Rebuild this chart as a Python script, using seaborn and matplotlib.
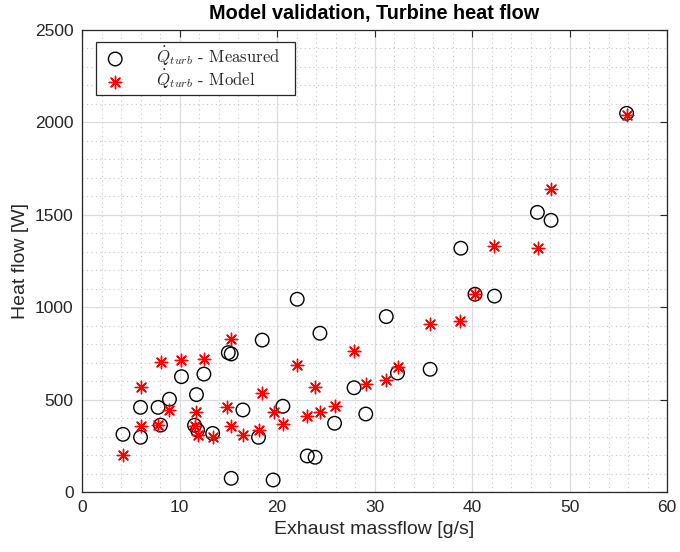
import matplotlib
matplotlib.use("Agg")
import matplotlib.pyplot as plt
import seaborn as sns
import pandas as pd
from matplotlib.ticker import MultipleLocator

# Data
massflow = [4.2, 6.0, 6.0, 7.8, 8.05, 8.97, 10.2, 11.54, 11.74, 11.85, 12.5, 13.4,
            15.0, 15.3, 15.3, 16.5, 18.1, 18.48, 19.6, 20.6, 22.07, 23.1, 23.9, 24.4,
            25.9, 27.9, 29.1, 31.2, 32.35, 35.7, 38.85, 40.3, 42.3, 46.7, 48.1, 55.85]
measured = [312, 458, 296, 458, 362, 502, 624, 361, 527, 335, 638, 317,
            754, 747, 74, 444, 296, 822, 65, 464, 1043, 195, 188, 859,
            372, 564, 422, 949, 644, 664, 1319, 1070, 1060, 1513, 1470, 2049]
model_x = [4.2, 6.0, 6.0, 7.8, 8.05, 8.97, 10.2, 11.54, 11.74, 11.9, 12.5, 13.4,
           14.9, 15.3, 15.3, 16.5, 18.1, 18.48, 19.67, 20.6, 22.07, 23.1, 23.85, 24.4,
           25.9, 27.9, 29.1, 31.2, 32.4, 35.7, 38.8, 40.3, 42.3, 46.75, 48.05, 55.85]
model = [198, 570, 357, 361, 705, 444, 714, 357, 433, 307, 718, 296,
         458, 826, 357, 307, 337, 537, 431, 368, 687, 411, 566, 431,
         465, 765, 583, 606, 676, 907, 927, 1070, 1333, 1318, 1640, 2038]

x_ticks = [0, 10, 20, 30, 40, 50, 60]
y_ticks = [0, 500, 1000, 1500, 2000, 2500]

sns.set_theme(style="white")
plt.rcParams['font.family'] = ['Liberation Sans', 'DejaVu Sans']
plt.rcParams['mathtext.fontset'] = 'cm'

df_meas = pd.DataFrame({"x": massflow, "y": measured})
df_mod = pd.DataFrame({"x": model_x, "y": model})

fig = plt.figure(figsize=(6.8, 5.52), dpi=100)
ax = fig.add_axes([0.1206, 0.1087, 0.8604, 0.837])

sns.scatterplot(data=df_meas, x="x", y="y", ax=ax, marker="o", s=95,
                facecolor="none", edgecolor="black", linewidth=1.0,
                label=r"$\dot{Q}_{turb}$ - Measured   ", zorder=3)
sns.scatterplot(data=df_mod, x="x", y="y", ax=ax, marker=(8, 2, 0), s=80,
                color="red", linewidth=1.0,
                label=r"$\dot{Q}_{turb}$ - Model", zorder=4)

ax.set_xlim(0, 60)
ax.set_ylim(0, 2500)
ax.set_xticks(x_ticks)
ax.set_yticks(y_ticks)
ax.xaxis.set_minor_locator(MultipleLocator(2))
ax.yaxis.set_minor_locator(MultipleLocator(100))
ax.grid(which="major", color="#dcdcdc", linewidth=0.9, linestyle="-")
ax.grid(which="minor", color="#c8c8c8", linewidth=0.8, linestyle=(0, (1, 3)))
ax.set_axisbelow(True)

for sp in ax.spines.values():
    sp.set_color("#262626")
    sp.set_linewidth(0.9)

ax.tick_params(axis="both", which="major", direction="in", length=5, width=0.8,
               colors="#262626", labelsize=12.5, top=True, right=True, pad=6)
ax.tick_params(axis="both", which="minor", length=0)

ax.set_xlabel("Exhaust massflow [g/s]", fontsize=14, color="#262626")
ax.set_ylabel("Heat flow [W]", fontsize=14, color="#262626")
ax.set_title("Model validation, Turbine heat flow", fontsize=14.3,
             fontweight="bold", color="black", pad=8)

leg = ax.legend(loc="upper left", bbox_to_anchor=(0.024, 0.974), borderaxespad=0,
                fancybox=False, edgecolor="#262626", framealpha=1,
                prop={"family": "cmr10", "size": 12},
                borderpad=0.2, handlelength=1.9, handletextpad=1.5,
                labelspacing=0.0)
leg.get_frame().set_linewidth(0.9)

fig.savefig("out.png", dpi=100)
